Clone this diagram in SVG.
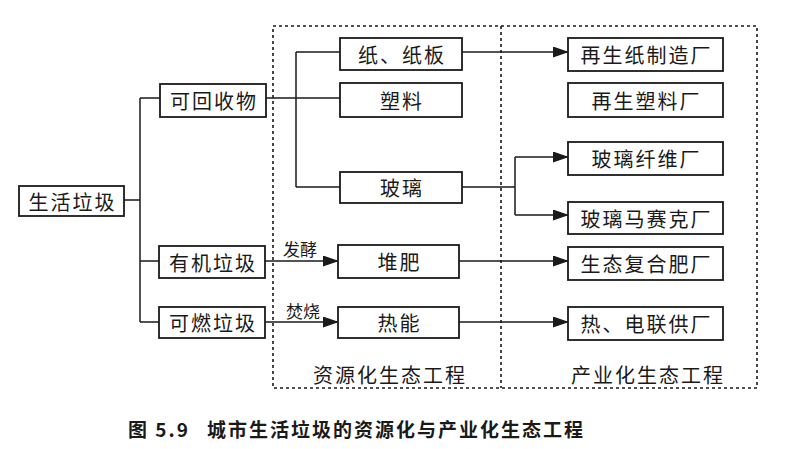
<svg xmlns="http://www.w3.org/2000/svg" width="800" height="449" viewBox="0 0 800 449">
<defs>
<marker id="arr" markerUnits="userSpaceOnUse" markerWidth="16" markerHeight="11" refX="15" refY="5.5" orient="auto">
<path d="M0,0 L16,5.5 L0,11 z" fill="#1a1a1a"/>
</marker>
<style>
.box{fill:#fff;stroke:#1a1a1a;stroke-width:1.8}
.t{font-family:"Noto Sans CJK SC","Noto Sans",sans-serif;font-size:20px;letter-spacing:2px;fill:#1a1a1a;text-anchor:middle;dominant-baseline:central}
.lbl{font-family:"Noto Sans CJK SC","Noto Sans",sans-serif;font-size:17px;fill:#1a1a1a;text-anchor:middle;dominant-baseline:central}
.sec{font-family:"Noto Sans CJK SC","Noto Sans",sans-serif;font-size:20px;letter-spacing:2px;fill:#1a1a1a;text-anchor:middle}
.dash{fill:none;stroke:#1a1a1a;stroke-width:1.6;stroke-dasharray:3,3}
.c{fill:none;stroke:#1a1a1a;stroke-width:1.5}
.a{fill:none;stroke:#1a1a1a;stroke-width:1.5;marker-end:url(#arr)}
.cap{font-family:"Noto Sans CJK SC","Noto Sans",sans-serif;font-size:19px;font-weight:bold;fill:#1a1a1a;letter-spacing:2px}
</style>
</defs>
<rect width="800" height="449" fill="#fff"/>
<g id="regions">
<rect class="dash" x="273" y="26" width="484" height="362"/>
<path class="dash" d="M501,26 V388" stroke-width="2"/>
<text class="sec" x="390" y="383">资源化生态工程</text>
<text class="sec" x="648" y="383">产业化生态工程</text>
</g>
<g id="connectors">
<path class="c" d="M124,200 H140 M140,98 V322 M140,98 H160 M140,261 H159 M140,322 H159"/>
<path class="c" d="M266,98 H340 M296,52 V187 M296,52 H340 M296,187 H340"/>
<path class="a" d="M462,52 H568"/>
<path class="c" d="M462,187 H515 M515,157 V215"/>
<path class="a" d="M515,157 H568"/>
<path class="a" d="M515,215 H568"/>
<path class="a" d="M265,261 H338"/>
<path class="a" d="M265,322 H338"/>
<path class="a" d="M459,261 H568"/>
<path class="a" d="M459,322 H568"/>
<text class="lbl" x="300" y="248">发酵</text>
<text class="lbl" x="303" y="310">焚烧</text>
</g>
<g id="n-shenghuo"><rect class="box" x="19" y="186" width="105" height="30"/><text class="t" x="72.5" y="201">生活垃圾</text></g>
<g id="n-kehuishou"><rect class="box" x="160" y="84" width="106" height="33"/><text class="t" x="214" y="100.5">可回收物</text></g>
<g id="n-youji"><rect class="box" x="159" y="246" width="106" height="32"/><text class="t" x="213" y="262">有机垃圾</text></g>
<g id="n-keran"><rect class="box" x="159" y="307" width="106" height="31"/><text class="t" x="213" y="322.5">可燃垃圾</text></g>
<g id="n-zhi"><rect class="box" x="340" y="38" width="122" height="32"/><text class="t" x="402" y="54">纸、纸板</text></g>
<g id="n-suliao"><rect class="box" x="340" y="83" width="122" height="34"/><text class="t" x="402" y="100">塑料</text></g>
<g id="n-boli"><rect class="box" x="340" y="172" width="122" height="31"/><text class="t" x="402" y="187.5">玻璃</text></g>
<g id="n-duifei"><rect class="box" x="338" y="245" width="121" height="33"/><text class="t" x="399.5" y="261.5">堆肥</text></g>
<g id="n-reneng"><rect class="box" x="338" y="307" width="121" height="31"/><text class="t" x="399.5" y="322.5">热能</text></g>
<g id="n-zaishengzhi"><rect class="box" x="568" y="38" width="155" height="33"/><text class="t" x="646.5" y="54.5">再生纸制造厂</text></g>
<g id="n-zaishengsuliao"><rect class="box" x="568" y="83" width="155" height="34"/><text class="t" x="646.5" y="100">再生塑料厂</text></g>
<g id="n-bolixianwei"><rect class="box" x="568" y="142" width="155" height="33"/><text class="t" x="646.5" y="158.5">玻璃纤维厂</text></g>
<g id="n-bolimasaike"><rect class="box" x="568" y="202" width="155" height="32"/><text class="t" x="646.5" y="218">玻璃马赛克厂</text></g>
<g id="n-fuhefei"><rect class="box" x="568" y="247" width="155" height="33"/><text class="t" x="646.5" y="263.5">生态复合肥厂</text></g>
<g id="n-relian"><rect class="box" x="568" y="307" width="155" height="33"/><text class="t" x="646.5" y="323.5">热、电联供厂</text></g>
<text class="cap" x="128" y="437">图 5.9<tspan x="207">城市生活垃圾的资源化与产业化生态工程</tspan></text>
</svg>
